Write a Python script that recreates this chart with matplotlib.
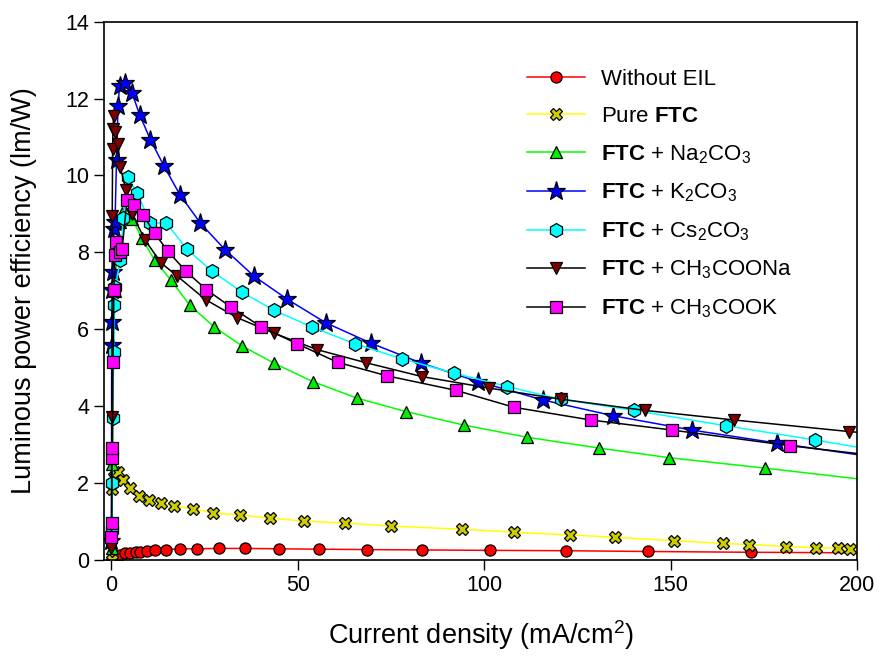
import matplotlib
matplotlib.use('Agg')
import matplotlib.pyplot as plt

plt.rcParams['font.family'] = ['Liberation Sans', 'DejaVu Sans']
plt.rcParams['mathtext.fontset'] = 'custom'
plt.rcParams['mathtext.rm'] = 'Liberation Sans'
plt.rcParams['mathtext.it'] = 'Liberation Sans:italic'
plt.rcParams['mathtext.bf'] = 'Liberation Sans:bold'

# ── data (last point past 200 only carries the line to the edge)
x_none = [0.3, 1.0, 2.4, 3.8, 5.1, 6.5, 7.8, 9.7, 11.8, 14.8, 18.3, 23.1, 28.8, 35.8, 44.9, 55.6,
          68.5, 83.3, 101.5, 122.0, 144.0, 171.5, 210]
y_none = [0.0, 0.08, 0.13, 0.18, 0.19, 0.2, 0.21, 0.23, 0.26, 0.27, 0.29, 0.29, 0.3, 0.3, 0.29, 0.28,
          0.27, 0.26, 0.25, 0.24, 0.22, 0.2, 0.18]

x_ftc = [0.1, 0.3, 0.6, 1.0, 1.9, 3.2, 5.1, 7.5, 10.2, 13.2, 16.7, 22.0, 27.4, 34.4, 42.5, 51.6,
         62.6, 75.0, 94.0, 108.0, 123.0, 135.0, 151.0, 164.0, 171.0, 181.0, 189.0, 195.0, 198.0, 210]
y_ftc = [0.0, 1.85, 2.15, 2.3, 2.29, 2.08, 1.87, 1.67, 1.56, 1.48, 1.41, 1.33, 1.22, 1.17, 1.09, 1.01,
         0.96, 0.88, 0.8, 0.72, 0.65, 0.59, 0.5, 0.43, 0.4, 0.35, 0.32, 0.3, 0.29, 0.26]

x_na = [0.1, 0.3, 0.6, 1.0, 1.5, 2.2, 2.9, 5.6, 8.2, 11.6, 15.9, 21.0, 27.5, 35.0, 43.6, 54.0,
        65.9, 79.0, 94.5, 111.6, 130.8, 149.6, 175.2, 210]
y_na = [0.3, 2.5, 5.5, 7.0, 8.0, 8.8, 9.02, 8.87, 8.37, 7.8, 7.29, 6.63, 6.07, 5.57, 5.12, 4.64,
        4.21, 3.86, 3.51, 3.19, 2.91, 2.66, 2.39, 2.0]

x_k = [0.05, 0.1, 0.2, 0.3, 0.5, 0.7, 1.0, 1.4, 1.8, 2.2, 3.8, 5.6, 7.6, 10.5, 14.1, 18.4, 23.9,
       30.5, 38.3, 47.2, 57.5, 69.6, 83.1, 98.3, 115.8, 134.6, 155.6, 178.5, 210]
y_k = [0.5, 5.6, 6.2, 7.03, 7.5, 8.6, 8.8, 10.4, 11.8, 12.33, 12.4, 12.14, 11.58, 10.93, 10.25,
       9.5, 8.76, 8.07, 7.38, 6.78, 6.17, 5.64, 5.12, 4.64, 4.16, 3.75, 3.38, 3.04, 2.6]

x_cs = [0.2, 0.3, 0.4, 0.6, 0.8, 1.1, 2.4, 3.2, 4.5, 6.9, 10.5, 14.8, 20.3, 26.9, 35.0, 43.5, 53.8,
        65.4, 78.0, 91.9, 106.2, 120.5, 140.2, 164.8, 188.8, 210]
y_cs = [0.78, 2.0, 3.69, 5.42, 6.64, 7.1, 7.8, 8.9, 9.96, 9.54, 8.77, 8.76, 8.08, 7.52, 6.97, 6.5,
        6.06, 5.62, 5.23, 4.86, 4.51, 4.18, 3.89, 3.49, 3.12, 2.77]

x_ona = [0.05, 0.15, 0.25, 0.35, 0.45, 0.6, 1.1, 1.8, 2.4, 3.9, 5.6, 9.0, 13.3, 17.6, 25.3, 33.8,
         43.6, 55.2, 68.3, 83.3, 101.3, 120.7, 143.1, 167.1, 197.8, 215]
y_ona = [0.3, 3.73, 8.95, 10.69, 11.2, 11.54, 11.14, 10.82, 10.22, 9.63, 9.0, 8.33, 7.73, 7.39,
         6.77, 6.3, 5.9, 5.47, 5.13, 4.77, 4.47, 4.18, 3.89, 3.64, 3.34, 3.2]

x_ok = [0.05, 0.1, 0.2, 0.3, 0.45, 0.7, 1.0, 1.3, 2.2, 2.9, 4.2, 6.0, 8.5, 11.6, 15.1, 19.9, 25.5,
        32.2, 40.1, 49.9, 60.7, 73.9, 92.5, 108.0, 128.6, 150.3, 182.1, 215]
y_ok = [0.59, 0.97, 2.65, 2.91, 5.16, 7.03, 7.94, 8.26, 8.0, 8.08, 9.35, 9.24, 8.98, 8.5, 8.04,
        7.52, 7.03, 6.57, 6.07, 5.62, 5.14, 4.79, 4.41, 3.97, 3.64, 3.38, 2.97, 2.6]

labels = ['Without EIL',
          r'Pure $\mathbf{FTC}$',
          r'$\mathbf{FTC}$ + Na$_2$CO$_3$',
          r'$\mathbf{FTC}$ + K$_2$CO$_3$',
          r'$\mathbf{FTC}$ + Cs$_2$CO$_3$',
          r'$\mathbf{FTC}$ + CH$_3$COONa',
          r'$\mathbf{FTC}$ + CH$_3$COOK']

series = [
    (x_none, y_none, '#ff0000', 'o', '#ff0000', 8),
    (x_ftc, y_ftc, '#ffff00', 'X', '#cccc00', 9),
    (x_na, y_na, '#00ff00', '^', '#00ee00', 9),
    (x_k, y_k, '#0000ff', '*', '#0000ff', 14),
    (x_cs, y_cs, '#00ffff', 'h', '#00ffff', 10),
    (x_ona, y_ona, '#000000', 'v', '#800000', 9),
    (x_ok, y_ok, '#000000', 's', '#ff00ff', 8),
]

fig = plt.figure(figsize=(8.8, 6.58), dpi=100)
ax = fig.add_axes([0.118, 0.149, 0.856, 0.818])

for (xs, ys, lc, mk, fc, ms), lab in zip(series, labels):
    ax.plot(xs, ys, color=lc, lw=1.1, marker=mk, markerfacecolor=fc,
            markeredgecolor='black', markeredgewidth=0.9, markersize=ms, label=lab)

ax.set_xlim(-2, 200)
ax.set_ylim(0, 14)
ax.set_xticks([0, 50, 100, 150, 200])
ax.set_yticks(range(0, 15, 2))
ax.tick_params(direction='out', length=7, width=1, labelsize=15.5)
for s in ax.spines.values():
    s.set_linewidth(1.2)

ax.set_xlabel('Current density (mA/cm$^2$)', fontsize=19.5, labelpad=16)
ax.set_ylabel('Luminous power efficiency (lm/W)', fontsize=19.5, labelpad=20)

ax.legend(loc='upper left', bbox_to_anchor=(0.562, 0.912), frameon=False, fontsize=16,
          handlelength=2.6, handletextpad=0.7, labelspacing=0.72, markerscale=1.0,
          borderpad=0, borderaxespad=0)

plt.savefig('out.png', dpi=100)
